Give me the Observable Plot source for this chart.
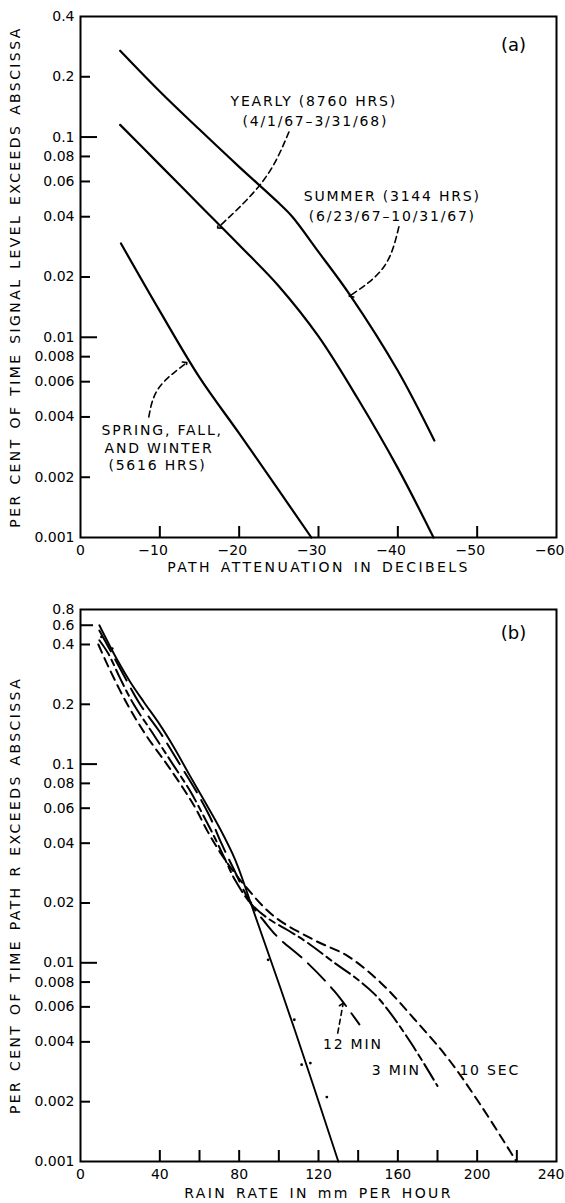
<!DOCTYPE html>
<html><head><meta charset="utf-8">
<script src="https://cdn.jsdelivr.net/npm/d3@7"></script>
<script src="https://cdn.jsdelivr.net/npm/@observablehq/plot@0.6"></script>
<style>
body{margin:0;background:#fff;}
#chart{width:565px;}
#chart svg{display:block;}
</style></head><body><div id="chart"></div>
<script>
// ---------- Panel (a) data ----------
const attenTicks = [0, -10, -20, -30, -40, -50, -60];
const attenTickLabels = ["0", "\u221210", "\u221220", "\u221230", "\u221240", "\u221250", "\u221260"];
const probTicksA = [0.4, 0.2, 0.1, 0.08, 0.06, 0.04, 0.02, 0.01, 0.008, 0.006, 0.004, 0.002, 0.001];
const probTickLabelsA = ["0.4", "0.2", "0.1", "0.08", "0.06", "0.04", "0.02", "0.01", "0.008", "0.006", "0.004", "0.002", "0.001"];

const summerAtten = [-5, -10, -15, -20, -25, -26.7, -30, -34, -40, -44.6];
const summerProb  = [0.27, 0.169, 0.109, 0.071, 0.0468, 0.040, 0.0267, 0.0162, 0.0068, 0.00305];

const yearlyAtten = [-5, -10, -15, -20, -25, -30, -35, -40, -44.5];
const yearlyProb  = [0.115, 0.0726, 0.0458, 0.0289, 0.0180, 0.0101, 0.0049, 0.00222, 0.001];

const sfwAtten = [-5.1, -10, -15, -20, -25, -29.1];
const sfwProb  = [0.0294, 0.0135, 0.0063, 0.00331, 0.00172, 0.001];

const annoTextA = ["YEARLY (8760 HRS)", "(4/1/67\u20133/31/68)", "SUMMER (3144 HRS)", "(6/23/67\u201310/31/67)", "SPRING, FALL,", "AND WINTER", "(5616 HRS)"];
const annoXA = [-29.4, -29.6, -39.3, -39.3, -10.3, -9.9, -9.7];
const annoYA = [0.150, 0.119, 0.0503, 0.040, 0.00343, 0.00278, 0.00229];

// dashed pointer arrows (start, bend, end)
const arrowYearlyX = [-26.27, -23.1, -17.44];
const arrowYearlyY = [0.106, 0.061, 0.0356];
const arrowSummerX = [-40.13, -38.25, -34.05];
const arrowSummerY = [0.0356, 0.0225, 0.0162];
const arrowSfwX = [-8.61, -9.84, -13.24];
const arrowSfwY = [0.0040, 0.00556, 0.00739];

// ---------- Panel (b) data ----------
const rateTicks = [0, 40, 80, 120, 160, 200, 240];
const rateInnerTicks = [40, 60, 80, 100, 120, 140, 160, 180, 200, 220];
const probTickPosB = [0.6, 0.5, 0.4, 0.2, 0.1, 0.08, 0.06, 0.04, 0.02, 0.01, 0.008, 0.006, 0.004, 0.002, 0.001];
const probTickLabelsB = ["0.8", "0.6", "0.4", "0.2", "0.1", "0.08", "0.06", "0.04", "0.02", "0.01", "0.008", "0.006", "0.004", "0.002", "0.001"];

const pathRate = [9.5, 18.5, 25, 32, 40, 47, 55, 62, 70, 78, 86, 108, 130];
const pathProb = [0.50, 0.335, 0.26, 0.205, 0.158, 0.122, 0.088, 0.0665, 0.048, 0.033, 0.0198, 0.0046, 0.001];

const pathDotRate = [10.6, 16.0, 85.9, 94.6, 107.8, 111.5, 115.9, 124.2];
const pathDotProb = [0.4365, 0.3816, 0.0200, 0.01035, 0.00517, 0.00307, 0.00313, 0.00211];

const min12Rate = [9.5, 14, 21, 30, 40, 50, 58, 65, 71, 77, 86, 93, 100, 113, 128, 140.6];
const min12Prob = [0.47, 0.39, 0.29, 0.2, 0.145, 0.1, 0.074, 0.055, 0.04, 0.03, 0.0198, 0.0160, 0.0133, 0.0103, 0.0072, 0.0049];

const min3Rate = [9.5, 14, 20, 26.8, 36, 46.5, 55, 62, 68, 73, 78, 86, 95, 105, 114.6, 128, 138, 148, 155, 167, 180];
const min3Prob = [0.42, 0.36, 0.27, 0.2, 0.145, 0.1, 0.074, 0.055, 0.042, 0.033, 0.026, 0.0198, 0.0166, 0.0145, 0.0126, 0.0100, 0.0085, 0.0070, 0.0058, 0.0039, 0.0024];

const sec10Rate = [9, 14, 23.6, 33, 43.5, 52, 58, 64, 72, 82.5, 97.7, 117.9, 134.8, 151.6, 168.4, 185.3, 202.1, 219.8];
const sec10Prob = [0.40, 0.31, 0.2, 0.14, 0.1, 0.075, 0.060, 0.046, 0.034, 0.0247, 0.0171, 0.0130, 0.0108, 0.0079, 0.0052, 0.0033, 0.0019, 0.001];

const annoTextB = ["12 MIN", "3 MIN", "10 SEC"];
const annoXB = [137.3, 159.2, 206.3];
const annoYB = [0.00387, 0.00288, 0.00288];
const arrow12X = [129.7, 132.3];
const arrow12Y = [0.00443, 0.00615];

const titlesA = {y: "PER CENT OF TIME SIGNAL LEVEL EXCEEDS ABSCISSA", x: "PATH ATTENUATION IN DECIBELS", panel: "(a)"};
const titlesB = {y: "PER CENT OF TIME PATH R EXCEEDS ABSCISSA", x: "RAIN RATE IN mm PER HOUR", panel: "(b)"};

// ---------- helpers ----------
const zip = (xs, ys) => xs.map((x, i) => ({x, y: ys[i]}));
const W = 565;
const font = "DejaVu Sans";

// ---------- Panel (a) ----------
const mA = {top: 16, right: 9, bottom: 53, left: 80}, HA = 590;
const fwA = W - mA.left - mA.right, fhA = HA - mA.top - mA.bottom;
const innerYA = probTicksA.filter(v => v !== 0.4 && v !== 0.001);

const plotA = Plot.plot({
  width: W, height: HA,
  marginTop: mA.top, marginRight: mA.right, marginBottom: mA.bottom, marginLeft: mA.left,
  style: {fontFamily: font, fontSize: "14px", background: "#fff", color: "#000", overflow: "visible"},
  x: {domain: [0, -60], label: null, axis: null},
  y: {type: "log", domain: [0.001, 0.4], label: null, axis: null},
  marks: [
    Plot.frame({strokeWidth: 2}),
    Plot.tickY(innerYA.filter(v => v !== 0.1 && v !== 0.01), {y: d => d, insetRight: fwA - 10, strokeWidth: 2}),
    Plot.tickY([0.1, 0.01], {y: d => d, insetRight: fwA - 17, strokeWidth: 2}),
    Plot.tickX(attenTicks.slice(1, -1), {x: d => d, insetTop: fhA - 11, strokeWidth: 2}),
    Plot.text(probTicksA, {y: d => d, text: (d, i) => probTickLabelsA[i], frameAnchor: "left", textAnchor: "end", lineAnchor: "middle", dx: -6, fontSize: 14}),
    Plot.text(attenTicks.slice(0, 1), {x: d => d, text: (d, i) => attenTickLabels[i], frameAnchor: "bottom", lineAnchor: "middle", textAnchor: "middle", dy: 13, fontSize: 14}),
    Plot.text(attenTicks.slice(1), {x: d => d, text: (d, i) => attenTickLabels[i + 1], frameAnchor: "bottom", lineAnchor: "middle", textAnchor: "end", dx: 8, dy: 13, fontSize: 14}),
    Plot.line(zip(summerAtten, summerProb), {x: "x", y: "y", curve: "catmull-rom", strokeWidth: 2.2}),
    Plot.line(zip(yearlyAtten, yearlyProb), {x: "x", y: "y", curve: "catmull-rom", strokeWidth: 2.2}),
    Plot.line(zip(sfwAtten, sfwProb), {x: "x", y: "y", curve: "catmull-rom", strokeWidth: 2.2}),
    Plot.line(zip(arrowYearlyX, arrowYearlyY), {x: "x", y: "y", curve: "natural", strokeWidth: 1.6, strokeDasharray: "6,4", markerEnd: "arrow"}),
    Plot.line(zip(arrowSummerX, arrowSummerY), {x: "x", y: "y", curve: "natural", strokeWidth: 1.6, strokeDasharray: "6,4", markerEnd: "arrow"}),
    Plot.line(zip(arrowSfwX, arrowSfwY), {x: "x", y: "y", curve: "natural", strokeWidth: 1.6, strokeDasharray: "6,4", markerEnd: "arrow"}),
    Plot.text(annoTextA.map((t, i) => ({t, x: annoXA[i], y: annoYA[i]})), {x: "x", y: "y", text: "t", fontSize: 14, fill: "#000"}),
    Plot.text([titlesA.panel], {frameAnchor: "top-right", text: d => d, dx: -43, dy: 29, fontSize: 18, textAnchor: "middle", lineAnchor: "middle"}),
    Plot.text([titlesA.y], {frameAnchor: "left", text: d => d, rotate: -90, dx: -65, textAnchor: "middle", lineAnchor: "middle", fontSize: 14}),
    Plot.text([titlesA.x], {frameAnchor: "bottom", text: d => d, dy: 30, textAnchor: "middle", lineAnchor: "middle", fontSize: 14})
  ]
});

// ---------- Panel (b) ----------
const mB = {top: 19, right: 9, bottom: 42, left: 80}, HB = 613;
const fwB = W - mB.left - mB.right, fhB = HB - mB.top - mB.bottom;
const innerYB = probTickPosB.filter(v => v !== 0.6 && v !== 0.001 && v !== 0.1 && v !== 0.01 && v !== 0.5);

const plotB = Plot.plot({
  width: W, height: HB,
  marginTop: mB.top, marginRight: mB.right, marginBottom: mB.bottom, marginLeft: mB.left,
  style: {fontFamily: font, fontSize: "14px", background: "#fff", color: "#000", overflow: "visible"},
  x: {domain: [0, 240], label: null, axis: null},
  y: {type: "log", domain: [0.001, 0.6], label: null, axis: null},
  marks: [
    Plot.frame({strokeWidth: 2}),
    Plot.tickY(innerYB, {y: d => d, insetRight: fwB - 10, strokeWidth: 2}),
    Plot.tickY([0.5], {y: d => d, insetRight: fwB - 13, strokeWidth: 2}),
    Plot.tickY([0.1, 0.01], {y: d => d, insetRight: fwB - 17, strokeWidth: 2}),
    Plot.tickX(rateInnerTicks, {x: d => d, insetTop: fhB - 11, strokeWidth: 2}),
    Plot.text(probTickPosB, {y: d => d, text: (d, i) => probTickLabelsB[i], frameAnchor: "left", textAnchor: "end", lineAnchor: "middle", dx: -6, fontSize: 14}),
    Plot.text(rateTicks.slice(0, -1), {x: d => d, text: d => String(d), frameAnchor: "bottom", lineAnchor: "middle", textAnchor: "middle", dy: 13, fontSize: 14}),
    Plot.text(rateTicks.slice(-1), {x: d => d, text: d => String(d), frameAnchor: "bottom", lineAnchor: "middle", textAnchor: "end", dx: 8, dy: 13, fontSize: 14}),
    Plot.line(zip(sec10Rate, sec10Prob), {x: "x", y: "y", curve: "catmull-rom", strokeWidth: 2, strokeDasharray: "9,6"}),
    Plot.line(zip(min3Rate, min3Prob), {x: "x", y: "y", curve: "catmull-rom", strokeWidth: 2, strokeDasharray: "18,5,6,5"}),
    Plot.line(zip(min12Rate, min12Prob), {x: "x", y: "y", curve: "catmull-rom", strokeWidth: 2, strokeDasharray: "24,9"}),
    Plot.line(zip(pathRate, pathProb), {x: "x", y: "y", curve: "catmull-rom", strokeWidth: 1.9}),
    Plot.dot(zip(pathDotRate, pathDotProb), {x: "x", y: "y", r: 1.4, fill: "#000"}),
    Plot.line(zip(arrow12X, arrow12Y), {x: "x", y: "y", strokeWidth: 1.6, strokeDasharray: "5,4", markerEnd: "arrow"}),
    Plot.text(annoTextB.map((t, i) => ({t, x: annoXB[i], y: annoYB[i]})), {x: "x", y: "y", text: "t", fontSize: 14, fill: "#000"}),
    Plot.text([titlesB.panel], {frameAnchor: "top-right", text: d => d, dx: -43, dy: 24, fontSize: 18, textAnchor: "middle", lineAnchor: "middle"}),
    Plot.text([titlesB.y], {frameAnchor: "left", text: d => d, rotate: -90, dx: -65, dy: 10, textAnchor: "middle", lineAnchor: "middle", fontSize: 14}),
    Plot.text([titlesB.x], {frameAnchor: "bottom", text: d => d, dy: 32, textAnchor: "middle", lineAnchor: "middle", fontSize: 14})
  ]
});

const chart = document.getElementById("chart");
chart.appendChild(plotA);
chart.appendChild(plotB);

// letter spacing for the hand-lettered look
const titleSet = new Set([titlesA.x, titlesA.y, titlesB.x, titlesB.y]);
const annoSet = new Set([...annoTextA, ...annoTextB]);
d3.selectAll('#chart g[aria-label="text"] text').each(function () {
  const t = this.textContent;
  if (titleSet.has(t)) {
    this.style.letterSpacing = "2.4px";
    this.style.wordSpacing = "2px";
  } else if (annoSet.has(t)) {
    this.style.letterSpacing = "1.8px";
  }
});
</script>
</body></html>
